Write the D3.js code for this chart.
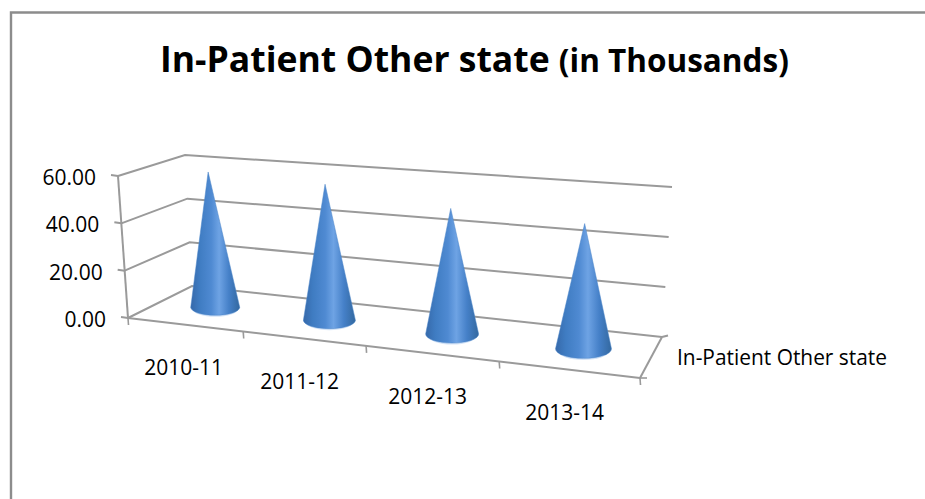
<!DOCTYPE html>
<html><head><meta charset="utf-8">
<script src="https://cdn.jsdelivr.net/npm/d3@7"></script>
<style>html,body{margin:0;padding:0;background:#fff}svg{display:block}text{font-family:"Open Sans",sans-serif;fill:#000}</style>
</head><body><svg id="c" width="925" height="499"></svg>
<script>
const categories = ["2010-11","2011-12","2012-13","2013-14"];
const seriesName = "In-Patient Other state";
const values = [59, 57.5, 51.5, 49.7];
const valueTicks = [0,20,40,60];

const svg = d3.select("#c");
svg.append("path").attr("d","M11,499V12.5H925").attr("fill","none").attr("stroke","#8c8c8c").attr("stroke-width",2.4);

// perspective frame: each vertical edge maps value -> pixel
const edge = (x0,y0,x1,y1)=>({x:d3.scaleLinear().domain([0,60]).range([x0,x1]),y:d3.scaleLinear().domain([0,60]).range([y0,y1])});
const frontL = edge(128,318,118,176), backL = edge(192,286,185,155),
      backR = edge(662,337,672,187), frontR = edge(640,378,636,218);
const warp = d3.scaleLinear().domain([0,1,2,3,4]).range([0,.225,.465,.725,1]);
const lerp = d3.interpolateNumber;
function P(c,d,v){ // c category coordinate, d depth 0-1, v value
  const u = warp(c);
  const lx = lerp(frontL.x(v),backL.x(v))(d), ly = lerp(frontL.y(v),backL.y(v))(d);
  const rx = lerp(frontR.x(v),backR.x(v))(d), ry = lerp(frontR.y(v),backR.y(v))(d);
  return [lerp(lx,rx)(u), lerp(ly,ry)(u)];
}
const line = d3.line().curve(d3.curveLinear);
const gridC = "#9a9a9a";
function seg(pts,w){ svg.append("path").attr("d",line(pts)).attr("fill","none").attr("stroke",gridC).attr("stroke-width",w||2); }

// gridlines on back and side walls
valueTicks.forEach(v=>{
  seg([P(0,0,v),P(0,1,v),P(4,1,v)]);
  const p=P(0,0,v); seg([[p[0]-7,p[1]-1],p]);
});
seg([P(0,0,0),P(0,0,60)]);
seg([P(0,0,0),P(4,0,0)]);
seg([P(4,0,0),P(4,1,0)]);
const br=P(4,1,0); seg([br,[br[0]+6,br[1]-1.5]]);
d3.range(0,5).forEach(c=>{ const p=P(c,0,0); seg([p,[p[0]+.5,p[1]+7]],1.6); });
const fr=P(4,0,0); seg([fr,[fr[0]+7,fr[1]]],1.6);

// cones
const defs = svg.append("defs");
const grad = defs.append("linearGradient").attr("id","cone").attr("x1",0).attr("x2",1).attr("y1",0).attr("y2",0);
[[0,"#3669aa"],[.18,"#3f7cc2"],[.42,"#4f8ad2"],[.58,"#6ea3e4"],[.78,"#4580c8"],[1,"#33689f"]]
  .forEach(([o,c])=>grad.append("stop").attr("offset",o).attr("stop-color",c));
const radius = [24.5,26,26.5,28], ry = [8,8.5,9,9.5];
values.forEach((v,i)=>{
  const b=P(i+.5,.5,0), a=P(i+.5,.5,v), r=radius[i], e=ry[i];
  svg.append("ellipse").attr("cx",b[0]).attr("cy",b[1]+.6).attr("rx",r-2).attr("ry",e).attr("fill","#d5e4f7");
  svg.append("path")
    .attr("d",`M${a[0]},${a[1]}L${b[0]-r},${b[1]-1}A${r},${e} 0 0 0 ${b[0]+r},${b[1]-1}Z`)
    .attr("fill","url(#cone)").attr("stroke","#4a84c8").attr("stroke-width",.5);
});

// labels
const fmt = d3.format(".2f");
valueTicks.forEach(v=>{
  const p=P(0,0,v);
  svg.append("text").attr("x",p[0]-22).attr("y",p[1]+9).attr("text-anchor","end").attr("font-size",21).text(fmt(v));
});
categories.forEach((c,i)=>{
  const p=P(i+.5,0,0);
  svg.append("text").attr("x",p[0]-2-(i?3:0)).attr("y",p[1]+50).attr("text-anchor","middle").attr("font-size",21).text(c);
});
svg.append("text").attr("x",677).attr("y",365).attr("font-size",21.5).attr("textLength",210).attr("lengthAdjust","spacingAndGlyphs").text(seriesName);

const t = svg.append("text").attr("x",160).attr("y",72).attr("font-weight",700);
t.append("tspan").attr("font-size",35.5).text("In-Patient Other state ");
t.append("tspan").attr("font-size",31.5).text("(in Thousands)");
</script></body></html>
